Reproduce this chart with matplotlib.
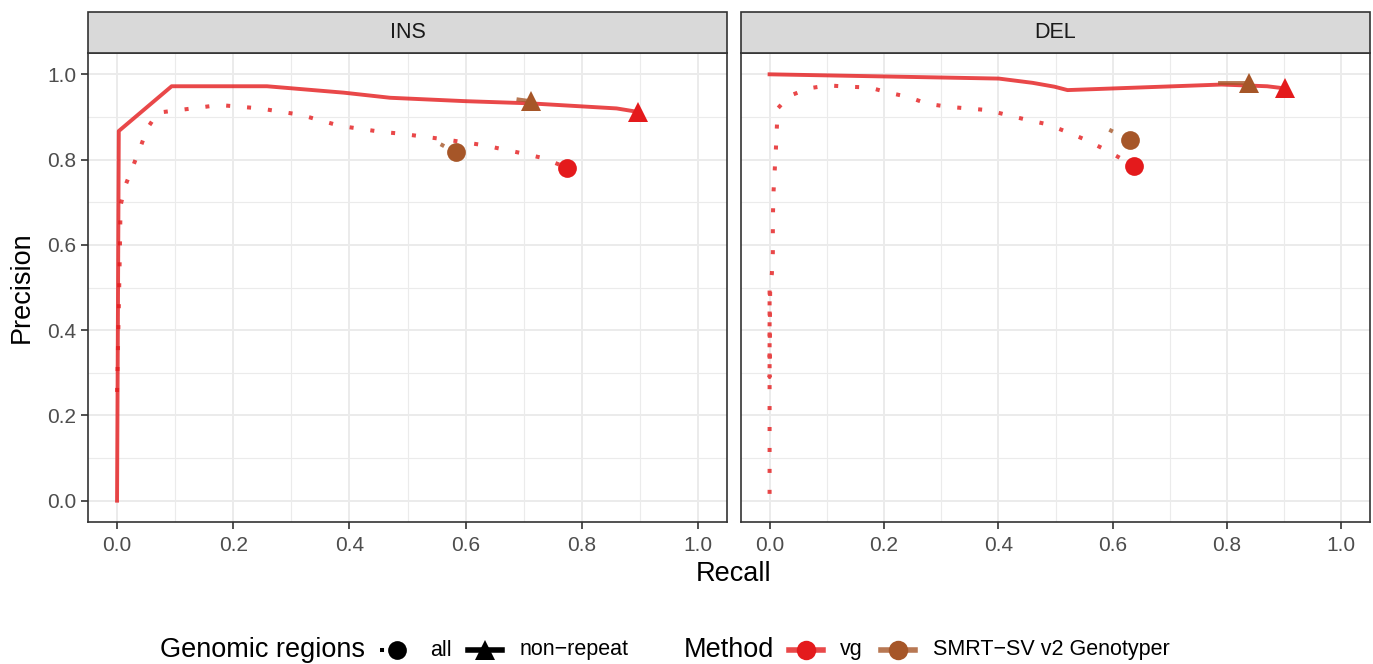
import matplotlib.pyplot as plt
from matplotlib.lines import Line2D
from matplotlib.patches import Rectangle

plt.rcParams['font.family'] = ['Liberation Sans', 'DejaVu Sans']

vg_col = '#E41A1C'
smrt_col = '#A65628'

# INS panel
ins_vg_all_x = [0.0, 0.003, 0.005, 0.006, 0.014, 0.027, 0.04, 0.052, 0.07, 0.106, 0.176,
                0.246, 0.316, 0.384, 0.455, 0.487, 0.561, 0.63, 0.70, 0.735, 0.774]
ins_vg_all_y = [0.255, 0.45, 0.598, 0.692, 0.738, 0.783, 0.828, 0.873, 0.91, 0.916, 0.928,
                0.92, 0.905, 0.879, 0.865, 0.861, 0.848, 0.834, 0.814, 0.803, 0.781]
ins_vg_nr_x = [0.0, 0.003, 0.094, 0.258, 0.39, 0.47, 0.6, 0.71, 0.86, 0.896]
ins_vg_nr_y = [0.0, 0.867, 0.972, 0.972, 0.957, 0.945, 0.937, 0.932, 0.92, 0.912]
ins_smrt_all_x = [0.557, 0.583]
ins_smrt_all_y = [0.836, 0.817]
ins_smrt_nr_x = [0.691, 0.712]
ins_smrt_nr_y = [0.941, 0.937]

# DEL panel
del_vg_all_x = [0.0, 0.0, 0.0, 0.001, 0.004, 0.0057, 0.0057, 0.006, 0.007, 0.009, 0.011,
                0.0126, 0.0143, 0.034, 0.068, 0.102, 0.137, 0.175, 0.208, 0.242, 0.276,
                0.311, 0.346, 0.382, 0.417, 0.451, 0.485, 0.518, 0.55, 0.583, 0.614, 0.637]
del_vg_all_y = [0.016, 0.5, 0.29, 0.5, 0.533, 0.582, 0.631, 0.678, 0.727, 0.776, 0.824,
                0.873, 0.92, 0.949, 0.967, 0.974, 0.971, 0.969, 0.957, 0.947, 0.931,
                0.924, 0.92, 0.916, 0.904, 0.893, 0.883, 0.866, 0.848, 0.826, 0.803, 0.784]
del_vg_nr_x = [0.0, 0.401, 0.46, 0.498, 0.521, 0.79, 0.87, 0.901]
del_vg_nr_y = [1.0, 0.99, 0.98, 0.971, 0.963, 0.976, 0.972, 0.967]
del_smrt_all_x = [0.594, 0.631]
del_smrt_all_y = [0.87, 0.845]
del_smrt_nr_x = [0.787, 0.839]
del_smrt_nr_y = [0.98, 0.98]

panels = [
    ('INS', ins_vg_all_x, ins_vg_all_y, ins_vg_nr_x, ins_vg_nr_y,
     ins_smrt_all_x, ins_smrt_all_y, ins_smrt_nr_x, ins_smrt_nr_y),
    ('DEL', del_vg_all_x, del_vg_all_y, del_vg_nr_x, del_vg_nr_y,
     del_smrt_all_x, del_smrt_all_y, del_smrt_nr_x, del_smrt_nr_y),
]

dotted = (0, (1.0, 4.2))
lw_dot = 2.9
lw = 2.8

W, H = 1373, 664
fig = plt.figure(figsize=(W / 100, H / 100), dpi=100)
lefts = [88 / W, 741 / W]
widths = [639 / W, 629 / W]
bottom = 1 - 522 / H
height = (522 - 53) / H
strip_h = 41 / H

for i, (name, ax_, ay_, nx_, ny_, sax, say, snx, sny) in enumerate(panels):
    ax = fig.add_axes([lefts[i], bottom, widths[i], height])
    ax.set_xlim(-0.05, 1.05)
    ax.set_ylim(-0.05, 1.05)
    ax.set_xticks([0, 0.2, 0.4, 0.6, 0.8, 1.0])
    ax.set_xticks([0.1, 0.3, 0.5, 0.7, 0.9], minor=True)
    ax.set_yticks([0, 0.2, 0.4, 0.6, 0.8, 1.0])
    ax.set_yticks([0.1, 0.3, 0.5, 0.7, 0.9], minor=True)
    ax.set_xticklabels(['0.0', '0.2', '0.4', '0.6', '0.8', '1.0'])
    if i == 0:
        ax.set_yticklabels(['0.0', '0.2', '0.4', '0.6', '0.8', '1.0'])
    else:
        ax.tick_params(axis='y', which='both', left=False, labelleft=False)
    ax.grid(True, which='major', color='#EBEBEB', lw=1.4)
    ax.grid(True, which='minor', color='#EBEBEB', lw=0.8)
    ax.set_axisbelow(True)
    ax.tick_params(axis='both', which='major', colors='#333333', labelcolor='#4D4D4D',
                   labelsize=15, length=5, width=1.2)
    ax.tick_params(axis='x', which='major', pad=5)
    ax.tick_params(axis='both', which='minor', length=0)
    for s in ax.spines.values():
        s.set_color('#333333')
        s.set_linewidth(1.2)

    ax.plot(ax_, ay_, color=vg_col, alpha=0.8, lw=lw_dot, linestyle=dotted, dash_capstyle='butt')
    ax.plot(nx_, ny_, color=vg_col, alpha=0.8, lw=lw)
    ax.plot(sax, say, color=smrt_col, alpha=0.8, lw=lw_dot, linestyle=dotted, dash_capstyle='butt')
    ax.plot(snx, sny, color=smrt_col, alpha=0.8, lw=lw)
    ax.plot(ax_[-1], ay_[-1], 'o', color=vg_col, ms=13.5, mew=0)
    ax.plot(nx_[-1], ny_[-1], '^', color=vg_col, ms=15, mew=0)
    ax.plot(sax[-1], say[-1], 'o', color=smrt_col, ms=13.5, mew=0)
    ax.plot(snx[-1], sny[-1], '^', color=smrt_col, ms=15, mew=0)

    # strip
    fig.patches.append(Rectangle((lefts[i], bottom + height), widths[i], strip_h,
                                 transform=fig.transFigure, facecolor='#D9D9D9',
                                 edgecolor='#333333', lw=1.2))
    fig.text(lefts[i] + widths[i] / 2, bottom + height + strip_h / 2, name, ha='center',
             va='center', fontsize=15.5, color='#1A1A1A')

fig.text(734 / W, 1 - 574 / H, 'Recall', ha='center', va='center', fontsize=19.5)
fig.text(22 / W, bottom + height / 2, 'Precision', rotation=90, ha='center', va='center',
         fontsize=19.5)

# legends at the bottom, keys drawn by hand in pixel positions
ly = 1 - 650 / H


def key(x0, x1, color, style, marker, ms, lwk, alpha=1.0):
    fig.add_artist(Line2D([x0 / W, x1 / W], [ly, ly], color=color, lw=lwk, linestyle=style,
                          alpha=alpha, dash_capstyle='butt', transform=fig.transFigure))
    fig.add_artist(Line2D([(x0 + x1) / 2 / W], [ly], color=color, marker=marker, ms=ms, mew=0,
                          linestyle='none', transform=fig.transFigure))


fig.text(160 / W, ly, 'Genomic regions', ha='left', va='center', fontsize=19.5)
key(380, 413, 'black', dotted, 'o', 13.5, lw_dot)
fig.text(430 / W, ly, 'all', ha='left', va='center', fontsize=15.5)
key(468, 502, 'black', '-', '^', 15, 4)
fig.text(520 / W, ly, 'non\u2212repeat', ha='left', va='center', fontsize=15.5)

fig.text(684 / W, ly, 'Method', ha='left', va='center', fontsize=19.5)
key(789, 823, vg_col, '-', 'o', 14, 4, alpha=0.8)
fig.text(840 / W, ly, 'vg', ha='left', va='center', fontsize=15.5)
key(881, 915, smrt_col, '-', 'o', 14, 4, alpha=0.8)
fig.text(933 / W, ly, 'SMRT\u2212SV v2 Genotyper', ha='left', va='center', fontsize=15.5)

fig.savefig('out.png', dpi=100)
